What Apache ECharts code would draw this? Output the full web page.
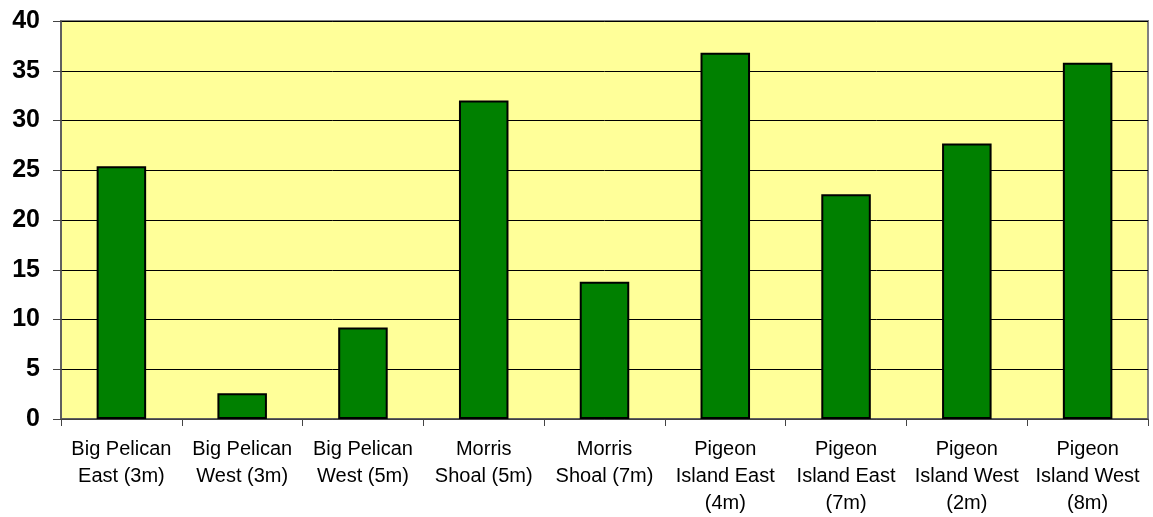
<!DOCTYPE html>
<html>
<head>
<meta charset="utf-8">
<script src="https://cdn.jsdelivr.net/npm/echarts@6/dist/echarts.min.js"></script>
<style>
  html, body { margin: 0; padding: 0; background: #fff; }
  #chart { width: 1153px; height: 517px; }
</style>
</head>
<body>
<div id="chart"></div>
<script>
const sites = [
  'Big Pelican\nEast (3m)',
  'Big Pelican\nWest (3m)',
  'Big Pelican\nWest (5m)',
  'Morris\nShoal (5m)',
  'Morris\nShoal (7m)',
  'Pigeon\nIsland East\n(4m)',
  'Pigeon\nIsland East\n(7m)',
  'Pigeon\nIsland West\n(2m)',
  'Pigeon\nIsland West\n(8m)'
];
const values = [25.4, 2.6, 9.2, 32.0, 13.8, 36.8, 22.6, 27.7, 35.8];
const yMin = 0;
const yMax = 40;
const yStep = 5;

const myChart = echarts.init(document.getElementById('chart'));
const option = {
  animation: false,
  grid: {
    left: 61,
    top: 21,
    right: 5,
    bottom: 97,
    show: true,
    backgroundColor: '#FFFF99',
    borderColor: '#808080',
    borderWidth: 2
  },
  xAxis: {
    type: 'category',
    data: sites,
    axisLine: { show: true, lineStyle: { color: '#555', width: 1.5 } },
    axisTick: { show: true, length: 7, lineStyle: { color: '#444' } },
    axisLabel: {
      interval: 0,
      margin: 17,
      color: '#000',
      fontFamily: 'Liberation Sans, Arial, sans-serif',
      fontSize: 20,
      lineHeight: 27
    }
  },
  yAxis: {
    type: 'value',
    min: yMin,
    max: yMax,
    interval: yStep,
    axisLine: { show: true, lineStyle: { color: '#555', width: 1.5 } },
    axisTick: { show: true, length: 8, lineStyle: { color: '#444' } },
    splitLine: { show: true, lineStyle: { color: '#000', width: 1 } },
    axisLabel: {
      margin: 21,
      color: '#000',
      fontFamily: 'Liberation Sans, Arial, sans-serif',
      fontSize: 25,
      fontWeight: 'bold'
    }
  },
  series: [{
    type: 'bar',
    data: values,
    barWidth: '41%',
    itemStyle: {
      color: '#008000',
      borderColor: '#000',
      borderWidth: 2
    }
  }]
};
option && myChart.setOption(option);
</script>
</body>
</html>
